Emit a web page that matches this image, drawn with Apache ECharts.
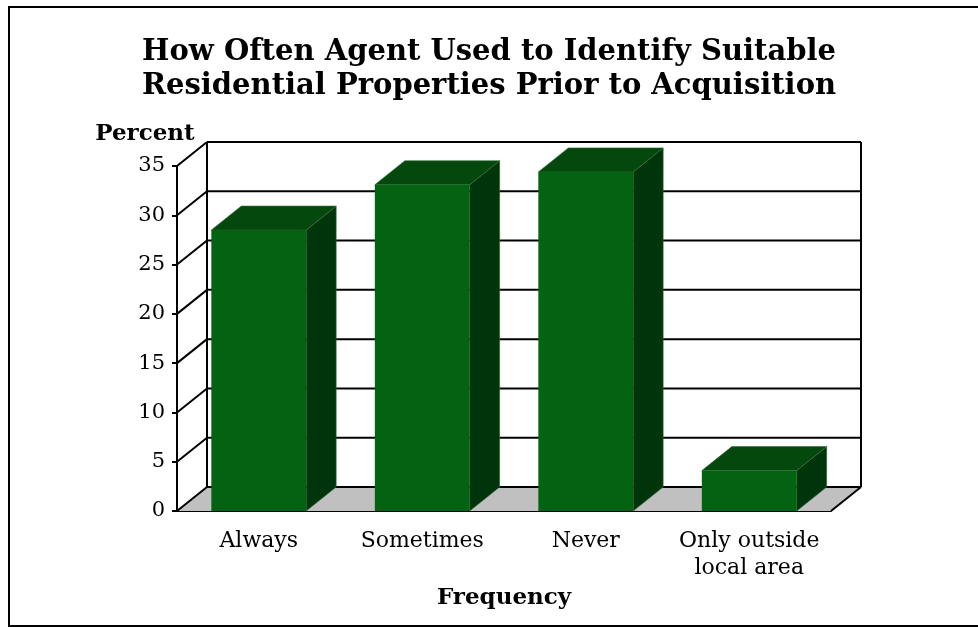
<!DOCTYPE html>
<html>
<head>
<meta charset="utf-8">
<script src="https://cdn.jsdelivr.net/npm/echarts@6/dist/echarts.min.js"></script>
<style>
  html, body { margin: 0; padding: 0; background: #fff; }
  #chart { width: 978px; height: 627px; }
</style>
</head>
<body>
<div id="chart"></div>
<script>
// Survey answers: how often an agent was used to find residential properties
const categories = ['Always', 'Sometimes', 'Never', 'Only outside\nlocal area'];
const percentValues = [28.5, 33.1, 34.4, 4.1];
const yMin = 0, yMax = 35, yStep = 5;

// Depth offset of the 3D box (pixels) and face colours
const DX = 30, DY = -24;
const FONT = 'DejaVu Serif';
const colFront = '#036312', colTop = '#05480d', colSide = '#00340a';

const chart = echarts.init(document.getElementById('chart'));

// Back wall, floor and side-wall diagonals drawn behind the bars
function renderWall(params, api) {
  const cs = params.coordSys;
  const left = cs.x, right = cs.x + cs.width;
  const y0 = api.coord([0, yMin])[1];
  const yTop = api.coord([0, yMax])[1];
  const line = { stroke: '#000', lineWidth: 2 };
  const kids = [];
  kids.push({
    type: 'polygon',
    shape: { points: [[left, y0], [right, y0], [right + DX, y0 + DY], [left + DX, y0 + DY]] },
    style: { fill: '#c0c0c0', stroke: null }
  });
  for (let v = yMin; v <= yMax; v += yStep) {
    const y = api.coord([0, v])[1];
    kids.push({ type: 'line', shape: { x1: left + DX, y1: y + DY, x2: right + DX, y2: y + DY }, style: line });
    kids.push({ type: 'line', shape: { x1: left, y1: y, x2: left + DX, y2: y + DY }, style: line });
  }
  kids.push({ type: 'line', shape: { x1: left + DX, y1: yTop + DY, x2: left + DX, y2: y0 + DY }, style: line });
  kids.push({ type: 'line', shape: { x1: right + DX, y1: yTop + DY, x2: right + DX, y2: y0 + DY }, style: line });
  kids.push({ type: 'line', shape: { x1: right, y1: y0, x2: right + DX, y2: y0 + DY }, style: line });
  return { type: 'group', children: kids };
}

// One 3D box per category: front face, top and right side
function renderBar(params, api) {
  const idx = api.value(0);
  const top = api.coord([idx, api.value(1)]);
  const base = api.coord([idx, 0]);
  const w = api.size([1, 0])[0] * 0.58;
  const l = top[0] - w / 2, r = top[0] + w / 2;
  const yt = top[1], yb = base[1];
  const edge = { stroke: '#2f6e3a', lineWidth: 0.6 };
  return {
    type: 'group',
    children: [
      { type: 'polygon', shape: { points: [[r, yt], [r + DX, yt + DY], [r + DX, yb + DY], [r, yb]] },
        style: Object.assign({ fill: colSide }, edge) },
      { type: 'polygon', shape: { points: [[l, yt], [r, yt], [r + DX, yt + DY], [l + DX, yt + DY]] },
        style: Object.assign({ fill: colTop }, edge) },
      { type: 'rect', shape: { x: l, y: yt, width: w, height: yb - yt },
        style: { fill: colFront } }
    ]
  };
}

chart.setOption({
  backgroundColor: '#fff',
  animation: false,
  title: {
    text: 'How Often Agent Used to Identify Suitable\nResidential Properties Prior to Acquisition',
    left: 'center',
    top: 30,
    textStyle: { fontFamily: FONT, fontWeight: 'bold', fontSize: 29, lineHeight: 34, color: '#000' }
  },
  graphic: [{
    type: 'rect',
    shape: { x: 9, y: 7, width: 985, height: 619 },
    style: { fill: null, stroke: '#000', lineWidth: 2 },
    silent: true
  }],
  grid: { left: 177, right: 147, top: 166, bottom: 116 },
  xAxis: {
    type: 'category',
    data: categories,
    name: 'Frequency',
    nameLocation: 'middle',
    nameGap: 76,
    nameTextStyle: { fontFamily: FONT, fontWeight: 'bold', fontSize: 23, color: '#000' },
    axisLine: { lineStyle: { color: '#000', width: 2 } },
    axisTick: { length: 8, lineStyle: { color: '#000', width: 2 } },
    axisLabel: { fontFamily: FONT, fontSize: 22, lineHeight: 27, color: '#000', margin: 17, interval: 0 }
  },
  yAxis: {
    type: 'value',
    min: yMin,
    max: yMax,
    interval: yStep,
    name: 'Percent',
    nameLocation: 'end',
    nameGap: 20,
    nameTextStyle: { fontFamily: FONT, fontWeight: 'bold', fontSize: 23, color: '#000', align: 'center', padding: [0, 64, 0, 0] },
    axisLine: { show: true, lineStyle: { color: '#000', width: 2 } },
    axisTick: { show: true, length: 5, lineStyle: { color: '#000', width: 2 } },
    axisLabel: { fontFamily: FONT, fontSize: 21, color: '#000', margin: 12, padding: [6, 0, 0, 0] },
    splitLine: { show: false }
  },
  series: [
    { type: 'custom', renderItem: renderWall, data: [[0, 0]], z: 1, silent: true },
    { type: 'custom', renderItem: renderBar, data: percentValues.map((v, i) => [i, v]), z: 2 }
  ]
});
</script>
</body>
</html>
